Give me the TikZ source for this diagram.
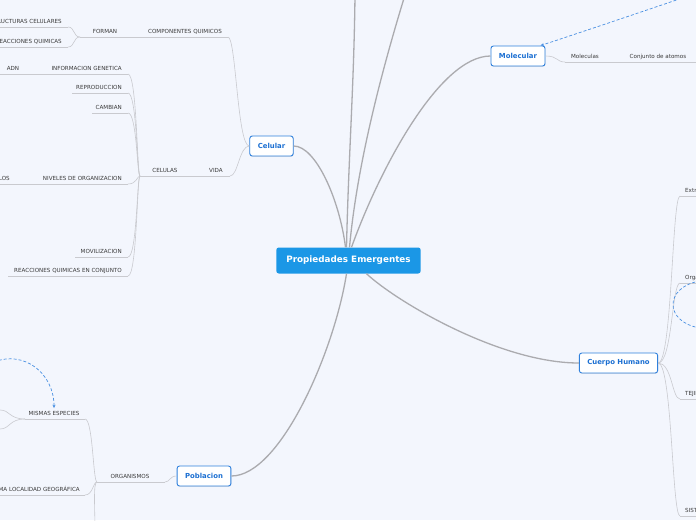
\documentclass[tikz,border=0pt]{standalone}
\usepackage{fontspec}
\setmainfont{DejaVu Sans}
\usetikzlibrary{arrows.meta,shadows}

\begin{document}
\begin{tikzpicture}[
  x=1pt,y=-1pt,
  trunk/.style={draw=trunkGray,line width=1.3pt},
  twig/.style={draw=twigGray,line width=0.6pt},
  rootbox/.style={rectangle,rounded corners=2.5pt,fill=rootBlue,text=white,
                  font=\bfseries\fontsize{8.8}{10}\selectfont,
                  minimum height=26pt,inner xsep=10pt,inner ysep=0pt},
  topicbox/.style={rectangle,rounded corners=2.5pt,draw=boxBlue,fill=white,
                   line width=0.9pt,text=textBlue,
                   font=\bfseries\fontsize{6.9}{8}\selectfont,
                   minimum height=20pt,inner xsep=8pt,inner ysep=0pt,
                   drop shadow={opacity=0.18,shadow xshift=0.4pt,shadow yshift=-0.8pt}},
  leaf/.style={font=\fontsize{5.6}{6}\selectfont,text=leafText,inner sep=0pt},
  relation/.style={draw=linkBlue,line width=0.7pt,dash pattern=on 3pt off 2pt},
]
\definecolor{bgTone}{HTML}{F3F6FD}
\definecolor{rootBlue}{HTML}{1B97E6}
\definecolor{boxBlue}{HTML}{2F80DC}
\definecolor{textBlue}{HTML}{1B6FD2}
\definecolor{trunkGray}{HTML}{ABABAF}
\definecolor{twigGray}{HTML}{C9CACF}
\definecolor{leafText}{HTML}{3A3A3A}
\definecolor{linkBlue}{HTML}{4A90E2}

\useasboundingbox (0,0) rectangle (696,520);
\fill[bgTone] (0,0) rectangle (696,520);
\clip (0,0) rectangle (696,520);

% Central topic and the four main branches.
\node[rootbox] (root) at (348.5,260.5) {Propiedades Emergentes};
\node[topicbox] (celular) at (271.5,146) {Celular};
\node[topicbox] (molecular) at (518,56) {Molecular};
\node[topicbox] (cuerpo) at (618.5,363) {Cuerpo Humano};
\node[topicbox] (poblacion) at (204,476) {Poblacion};

% Branches leaving the page at the top.
\coordinate (upA) at (355,-5);
\coordinate (upB) at (405,-5);

\draw[trunk] ([xshift=-2pt]root.north) .. controls +(2,-90) and +(-1,90) .. (upA);
\draw[trunk] ([xshift=1pt]root.north) .. controls +(8,-88) and +(-20,65) .. (upB);
\draw[trunk] ([xshift=-3pt]root.north) .. controls +(-6,-48) and +(22,0) .. (celular.east);
\draw[trunk] ([xshift=3pt]root.north) .. controls +(28,-78) and +(-51,0) .. (molecular.west);
\draw[trunk] ([xshift=18pt]root.south) .. controls +(30,28) and +(-79,0) .. (cuerpo.west);
\draw[trunk] ([xshift=-2pt]root.south) .. controls +(-12,77) and +(49,0) .. (poblacion.east);

% Subtopics: name / x / underline y / anchor / left end / right end / text.
\foreach \n/\x/\y/\a/\xl/\xr/\t in {
  compQ/185/37/base/145/228/COMPONENTES QUIMICOS,
  forman/105/37/base/80/145/FORMAN,
  estruct/62/27/base east/-40/68/ESTRUCTURAS CELULARES,
  reacQ/62/47/base east/-40/68/REACCIONES QUIMICAS,
  vida/216/176/base/200/230/VIDA,
  celulas/165/176/base/140/200/CELULAS,
  infoG/122/74/base east/45/128/INFORMACION GENETICA,
  adn/13/74/base/-10/45/ADN,
  repro/122/93/base east/72/128/REPRODUCCION,
  cambian/122/113/base east/92/128/CAMBIAN,
  niveles/122/184/base east/40/128/NIVELES DE ORGANIZACION,
  nivLos/10/184/base east/-30/40/ORGANULOS,
  movil/122/257/base east/75/128/MOVILIZACION,
  reacConj/122/276/base east/8/128/REACCIONES QUIMICAS EN CONJUNTO,
  molec/585/62/base/565/605/Moleculas,
  conj/658/62/base/605/700/Conjunto de atomos,
  extr/685/196/base west/680/720/Extremidades,
  org/685/283/base west/680/720/Organos,
  tej/685/399/base west/680/720/TEJIDOS,
  sist/685/516/base west/680/720/SISTEMAS,
  organ/130/482/base/97/165/ORGANISMOS,
  mismas/54/419/base/25/85/MISMAS ESPECIES,
  local/80/495/base east/-5/85/MISMA LOCALIDAD GEOGRÁFICA}
{
  \coordinate (\n-l) at (\xl,\y);
  \coordinate (\n-r) at (\xr,\y);
  \node[leaf,anchor=\a] (\n) at (\x,\y-3.5) {\t};
  \draw[twig] (\n-l) -- (\n-r);
}

% Hidden children beyond the left edge.
\coordinate (mismasA) at (0,410);
\coordinate (mismasB) at (0,429);
\coordinate (mismasAl) at (-30,410);
\coordinate (mismasBl) at (-30,429);
\coordinate (organDown) at (95,530);

% Celular side.
\draw[twig] (celular.west) .. controls +(-12,0) and +(8,0) .. (compQ-r);
\draw[twig] (celular.west) .. controls +(-10,0) and +(8,0) .. (vida-r);
\foreach \c in {estruct,reacQ}
  \draw[twig] (forman-l) .. controls +(-7,0) and +(7,0) .. (\c-r);
\foreach \c in {infoG,repro,cambian,niveles,movil,reacConj}
  \draw[twig] (celulas-l) .. controls +(-3,0) and +(9,0) .. (\c-r);

% Molecular and Cuerpo Humano.
\draw[twig] (molecular.east) .. controls +(13,0) and +(-9,0) .. (molec-l);
\foreach \c in {extr,org,tej,sist}
  \draw[twig] (cuerpo.east) .. controls +(14,0) and +(-8,0) .. (\c-l);

% Poblacion.
\draw[twig] (poblacion.west) .. controls +(-7,0) and +(5,0) .. (organ-r);
\foreach \c in {mismas,local}
  \draw[twig] (organ-l) .. controls +(-4,0) and +(8,0) .. (\c-r);
\draw[twig] (organ-l) .. controls +(-4,0) and +(0,-20) .. (organDown);
\draw[twig] (mismas-l) .. controls +(-16,0) and +(10,0) .. (mismasA) -- (mismasAl);
\draw[twig] (mismas-l) .. controls +(-16,0) and +(10,0) .. (mismasB) -- (mismasBl);

% Dashed relations.
\coordinate (molSrc) at (700,-8);
\coordinate (popSrc) at (-6,362);
\coordinate (orgLoopA) at (700,281);
\coordinate (orgLoopB) at (700,328);
\draw[relation,-{Stealth[length=3.5pt,width=3pt]}] (molSrc)
  .. controls +(-50,17) and +(40,-13) .. ([xshift=-5pt]molecular.north east);
\draw[relation,-{Stealth[length=3.5pt,width=3pt]}] (popSrc)
  .. controls +(30,-12) and +(0,-35) .. ([yshift=3pt]mismas.north);
\draw[relation] (orgLoopA) .. controls +(-36,6) and +(-36,-6) .. (orgLoopB);
\end{tikzpicture}
\end{document}
